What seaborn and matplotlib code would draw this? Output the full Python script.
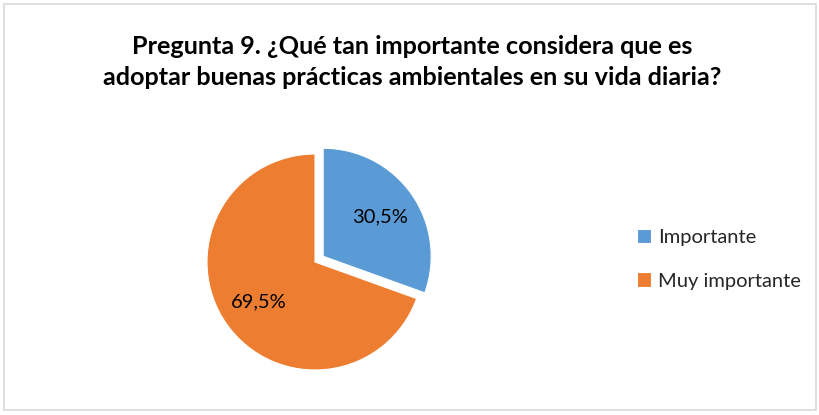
import matplotlib.pyplot as plt
import matplotlib.patches as mpatches
import seaborn as sns


OUTPUT_FILENAME = "out.png"

TITLE = "Pregunta 9. ¿Qué tan importante considera que es\nadoptar buenas prácticas ambientales en su vida diaria?"
categories = ["Importante", "Muy importante"]
percentages = [30.5, 69.5]
colors = ["#5B9BD5", "#ED7D31"]


def fmt_pct(p):
    return f"{p:.1f}%".replace(".", ",")


def plot_chart(output_path):
    sns.set_theme(style="white")
    plt.rcParams["font.family"] = ["Lato", "DejaVu Sans"]

    fig = plt.figure(figsize=(8.2, 4.15), dpi=100)
    fig.patch.set_facecolor("white")

    # marco gris del área del gráfico
    fig.patches.append(mpatches.Rectangle(
        (4, 5), 812, 406, transform=None, fill=False,
        edgecolor="#D9D9D9", linewidth=1.2))

    ax = fig.add_axes([0, 0, 1, 1])

    wedges, texts, autotexts = ax.pie(
        percentages,
        colors=colors,
        startangle=90,
        counterclock=False,
        center=(315, 153),
        radius=108,
        explode=[10, 0],
        autopct=fmt_pct,
        pctdistance=0.64,
        wedgeprops={"edgecolor": "white", "linewidth": 0.8},
        textprops={"fontsize": 14.5, "color": "#000000"},
    )
    # pie() fija sus propios límites; se restablecen en píxeles
    ax.set_xlim(0, 820)
    ax.set_ylim(0, 415)
    ax.set_aspect("equal")
    ax.axis("off")

    fig.text(0.503, 0.85, TITLE, ha="center", va="center",
             fontsize=18.2, fontweight="bold", linespacing=1.4, color="#000000")

    fig.legend(wedges, categories, loc="center left",
               bbox_to_anchor=(0.755, 0.375), frameon=False,
               fontsize=14.5, handlelength=0.7, handleheight=0.7,
               handletextpad=0.35, labelspacing=1.3)

    fig.savefig(output_path, dpi=100)
    print(f"Gráfico guardado en {output_path}")


def main():
    plot_chart(OUTPUT_FILENAME)


if __name__ == "__main__":
    main()
